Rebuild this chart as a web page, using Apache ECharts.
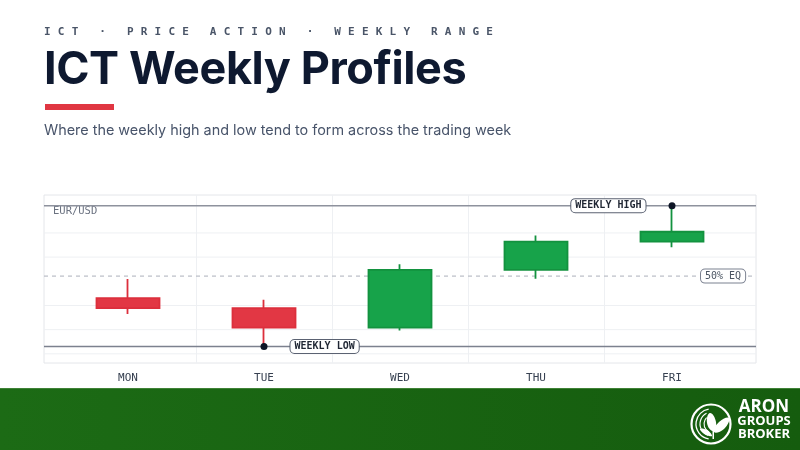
<!DOCTYPE html>
<html>
<head>
<meta charset="utf-8">
<script src="https://cdn.jsdelivr.net/npm/echarts@6/dist/echarts.min.js"></script>
<style>
  html, body { margin: 0; padding: 0; background: #fff; }
  #wrap { position: relative; width: 800px; height: 450px; overflow: hidden; }
  #chart { position: absolute; left: 0; top: 0; width: 800px; height: 450px; }
  .hd { position: absolute; left: 44px; white-space: nowrap; pointer-events: none; }
  #eyebrow { top: 26px; font: bold 11px/12px "DejaVu Sans Mono", monospace; letter-spacing: 7.2px; color: #4a5568; }
  #title { top: 45px; font: 700 45px/45px Inter, sans-serif; color: #0e1930; letter-spacing: -0.4px; }
  #redbar { position: absolute; left: 45px; top: 104px; width: 69px; height: 6px; background: #e03642; }
  #sub { top: 122px; font: 14.4px/15px Inter, sans-serif; color: #48546a; }
</style>
</head>
<body>
<div id="wrap">
  <div id="chart"></div>
  <div class="hd" id="eyebrow">ICT · PRICE ACTION · WEEKLY RANGE</div>
  <div class="hd" id="title">ICT Weekly Profiles</div>
  <div id="redbar"></div>
  <div class="hd" id="sub">Where the weekly high and low tend to form across the trading week</div>
</div>
<script>
// EUR/USD daily candles of one week
const days = ['MON', 'TUE', 'WED', 'THU', 'FRI']
const opens = [1.08230, 1.08189, 1.08108, 1.08347, 1.08464]
const closes = [1.08189, 1.08108, 1.08347, 1.08464, 1.08505]
const lows = [1.08165, 1.08030, 1.08096, 1.08311, 1.08441]
const highs = [1.08309, 1.08224, 1.08371, 1.08489, 1.08613]
// light horizontal guide levels
const gridLevels = [1.0800, 1.0810, 1.0820, 1.0840, 1.0850]
const priceMin = 1.07962
const priceMax = 1.08657

const weeklyHigh = Math.max(...highs)
const weeklyLow = Math.min(...lows)
const eq = (weeklyHigh + weeklyLow) / 2
const highDay = days[highs.indexOf(weeklyHigh)]
const lowDay = days[lows.indexOf(weeklyLow)]

const mono = '"DejaVu Sans Mono", monospace'
const tagStyle = {
  show: true,
  fontFamily: mono,
  fontSize: 10,
  fontWeight: 'bold',
  color: '#1f2633',
  backgroundColor: '#fff',
  borderColor: '#5b6272',
  borderWidth: 1,
  borderRadius: 4,
  padding: [2, 4, 1, 4]
}

// one horizontal line across the full plot frame, drawn as a plain line series
const hLine = (name, value, lineStyle, z, label) => ({
  name: name,
  type: 'line',
  xAxisIndex: 0,
  yAxisIndex: 0,
  z: z,
  silent: true,
  symbol: 'none',
  data: [[0, value], [1, value]],
  lineStyle: lineStyle,
  label: { show: false },
  endLabel: label ? { ...label, show: true } : { show: false }
})

let myChart = echarts.init(document.getElementById('chart'))

let option = {
  animation: false,
  grid: [
    { left: 44, right: 44, top: 195, bottom: 87, show: true, borderColor: '#e4e6ea', borderWidth: 1 },
    { left: 60, right: 60, top: 195, bottom: 87 }
  ],
  xAxis: [
    { gridIndex: 0, type: 'value', min: 0, max: 1, show: false },
    {
      gridIndex: 1,
      type: 'category',
      data: days,
      axisLine: { show: false },
      axisTick: { show: false },
      axisLabel: { fontFamily: mono, fontSize: 11, color: '#374151', margin: 10 },
      splitLine: { show: true, showMinLine: false, showMaxLine: false, lineStyle: { color: '#eef0f3', width: 1 } }
    }
  ],
  yAxis: [
    { gridIndex: 0, type: 'value', min: priceMin, max: priceMax, show: false },
    { gridIndex: 1, type: 'value', min: priceMin, max: priceMax, show: false }
  ],
  series: [
    ...gridLevels.map(v => hLine('grid', v, { color: '#eef0f3', width: 1 }, 0)),
    hLine('weekly high', weeklyHigh, { color: '#8e929d', width: 1.5 }, 1),
    hLine('weekly low', weeklyLow, { color: '#7c818e', width: 1.5 }, 1),
    hLine('50% eq', eq, { color: '#b9bdc6', width: 1.2, type: [4, 4] }, 1, {
      formatter: '50% EQ',
      offset: [-63, 0],
      fontFamily: mono,
      fontSize: 10,
      color: '#4b5563',
      backgroundColor: '#fff',
      borderColor: '#7b8190',
      borderWidth: 1,
      borderRadius: 4,
      padding: [2, 4, 1, 4]
    }),
    {
      type: 'candlestick',
      xAxisIndex: 1,
      yAxisIndex: 1,
      z: 3,
      barWidth: 63,
      data: days.map((d, i) => [opens[i], closes[i], lows[i], highs[i]]),
      itemStyle: {
        color: '#17a34a',
        borderColor: '#13923f',
        color0: '#e23744',
        borderColor0: '#dc2f3c',
        borderWidth: 1.8
      },
      markPoint: {
        symbol: 'circle',
        symbolSize: 7,
        itemStyle: { color: '#0d1526' },
        data: [
          { coord: [highDay, weeklyHigh], label: { ...tagStyle, position: 'left', distance: 23, formatter: 'WEEKLY HIGH' } },
          { coord: [lowDay, weeklyLow], label: { ...tagStyle, position: 'right', distance: 23, formatter: 'WEEKLY LOW' } }
        ]
      }
    }
  ],
  graphic: [
    {
      type: 'text', x: 53, y: 211,
      style: { text: 'EUR/USD', font: '10.5px "DejaVu Sans Mono", monospace', fill: '#6b7280', textVerticalAlign: 'middle' }
    },
    {
      type: 'rect', x: 0, y: 388, z: 10,
      shape: { width: 800, height: 62 },
      style: {
        fill: new echarts.graphic.LinearGradient(0, 0, 1, 0, [
          { offset: 0, color: '#1c6b15' },
          { offset: 1, color: '#155c0e' }
        ])
      }
    },
    { type: 'rect', x: 0, y: 388, z: 11, shape: { width: 800, height: 1 }, style: { fill: '#3f8236' } },
    // logo
    { type: 'circle', z: 11, shape: { cx: 711, cy: 424, r: 19.5 }, style: { fill: 'none', stroke: '#fff', lineWidth: 2.2 } },
    { type: 'arc', z: 11, shape: { cx: 711, cy: 424, r: 15, startAngle: Math.PI * 0.55, endAngle: Math.PI * 1.45 }, style: { fill: 'none', stroke: '#fff', lineWidth: 1.3 } },
    { type: 'arc', z: 11, shape: { cx: 712, cy: 424, r: 12, startAngle: Math.PI * 0.6, endAngle: Math.PI * 1.35 }, style: { fill: 'none', stroke: '#fff', lineWidth: 1.2 } },
    { type: 'arc', z: 11, shape: { cx: 713, cy: 424, r: 9, startAngle: Math.PI * 0.65, endAngle: Math.PI * 1.25 }, style: { fill: 'none', stroke: '#fff', lineWidth: 1.1 } },
    {
      type: 'polygon', z: 11,
      shape: { points: [[713, 431], [707, 423], [710, 413], [716, 422]], smooth: 0.5 },
      style: { fill: '#fff' }
    },
    {
      type: 'polygon', z: 11,
      shape: { points: [[714, 432], [719, 422], [729, 418], [724, 429]], smooth: 0.5 },
      style: { fill: '#fff' }
    },
    {
      type: 'polygon', z: 11,
      shape: { points: [[712, 436], [705, 434], [700, 429], [707, 430]], smooth: 0.5 },
      style: { fill: '#fff' }
    },
    { type: 'rect', z: 11, x: 712.5, y: 430, shape: { width: 1.5, height: 9 }, style: { fill: '#fff' } },
    {
      type: 'text', z: 11, x: 764, y: 407,
      style: { text: 'ARON', font: 'bold 17px "Open Sans", sans-serif', fill: '#fff', textAlign: 'center', textVerticalAlign: 'middle' }
    },
    {
      type: 'text', z: 11, x: 764, y: 421,
      style: { text: 'GROUPS', font: 'bold 13px "Open Sans", sans-serif', fill: '#fff', textAlign: 'center', textVerticalAlign: 'middle' }
    },
    {
      type: 'text', z: 11, x: 764, y: 434,
      style: { text: 'BROKER', font: 'bold 13px "Open Sans", sans-serif', fill: '#fff', textAlign: 'center', textVerticalAlign: 'middle' }
    }
  ]
}

myChart.setOption(option)
</script>
</body>
</html>
